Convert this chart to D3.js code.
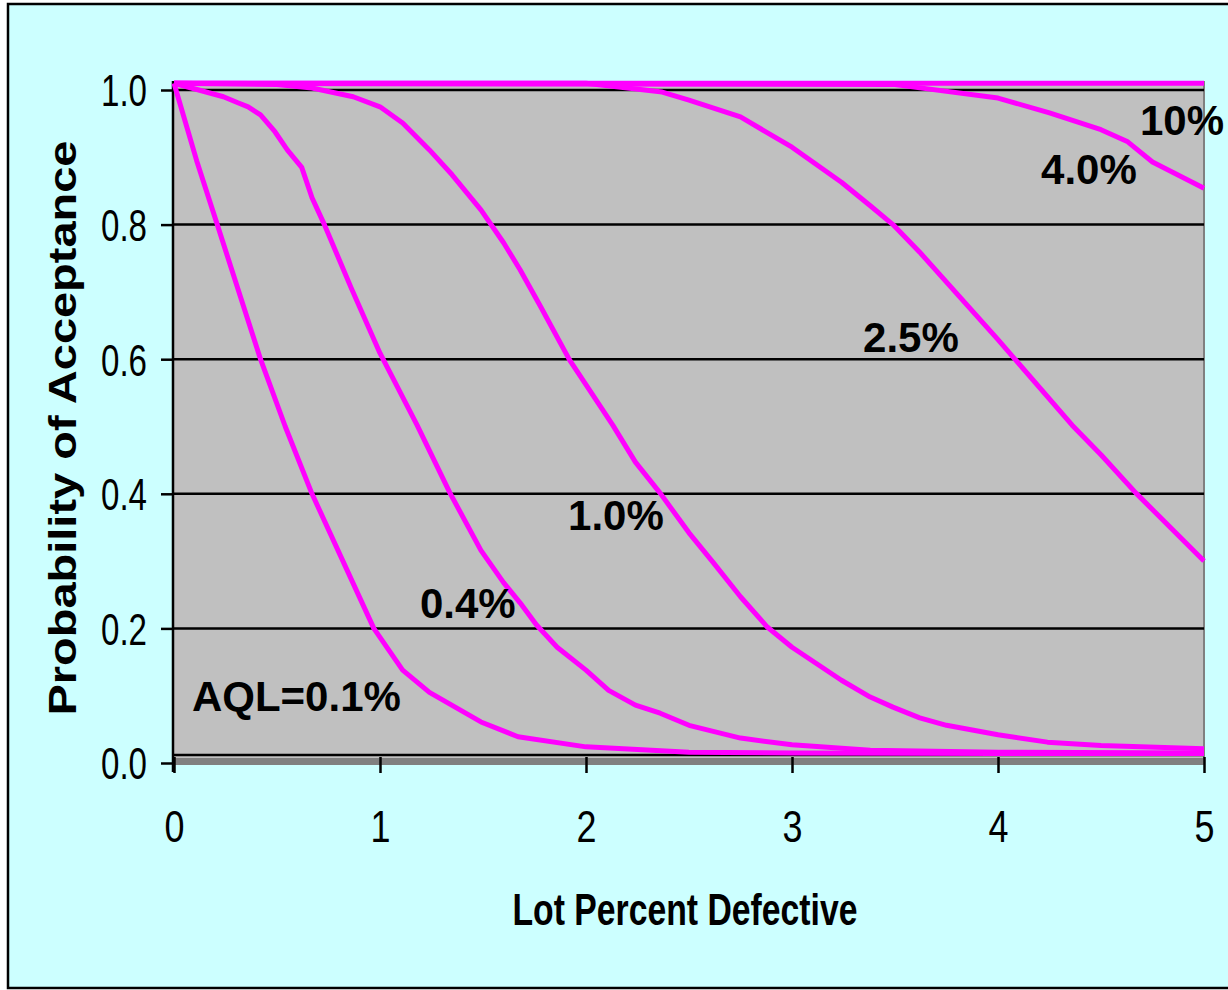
<!DOCTYPE html>
<html>
<head>
<meta charset="utf-8">
<script src="https://cdn.jsdelivr.net/npm/d3@7"></script>
<style>
  body { margin: 0; background: #ffffff; }
  svg { display: block; }
  .tick-label { font-family: "Liberation Sans", Arial, sans-serif; font-size: 44px; fill: #000; }
  .curve-label { font-family: "Liberation Sans", Arial, sans-serif; font-weight: bold; font-size: 42px; fill: #000; }
</style>
</head>
<body>
<svg id="chart" width="1228" height="990"></svg>
<script>
// Lot percent defective (x) and probability of acceptance (y)
const aql01X = [0, 0.11, 0.21, 0.42, 0.54, 0.67, 0.97, 1.11, 1.24, 1.49, 1.67, 2.0, 2.5, 3.0, 4.0, 5.0];
const aql01P = [1.01, 0.895, 0.80, 0.60, 0.50, 0.40, 0.20, 0.138, 0.105, 0.061, 0.039, 0.024, 0.016, 0.015, 0.014, 0.014];

const aql04X = [0, 0.24, 0.31, 0.36, 0.42, 0.49, 0.55, 0.62, 0.67, 0.73, 0.86, 1.0, 1.18, 1.34, 1.49, 1.60, 1.68, 1.76, 1.86, 2.0, 2.11, 2.24, 2.36, 2.5, 2.75, 3.0, 3.38, 4.0, 5.0];
const aql04P = [1.01, 0.99, 0.981, 0.975, 0.963, 0.938, 0.911, 0.885, 0.84, 0.80, 0.706, 0.609, 0.502, 0.401, 0.316, 0.268, 0.238, 0.205, 0.172, 0.138, 0.108, 0.086, 0.074, 0.056, 0.037, 0.027, 0.019, 0.016, 0.015];

const aql10X = [0, 0.5, 0.67, 0.87, 1.0, 1.11, 1.24, 1.35, 1.49, 1.60, 1.68, 1.78, 1.92, 2.13, 2.24, 2.36, 2.5, 2.62, 2.75, 2.88, 3.0, 3.24, 3.38, 3.49, 3.62, 3.75, 4.0, 4.24, 4.5, 5.0];
const aql10P = [1.01, 1.008, 1.003, 0.99, 0.975, 0.951, 0.911, 0.874, 0.822, 0.773, 0.733, 0.678, 0.599, 0.502, 0.447, 0.401, 0.342, 0.297, 0.247, 0.202, 0.172, 0.123, 0.098, 0.083, 0.067, 0.056, 0.042, 0.031, 0.026, 0.021];

const aql25X = [0, 2.0, 2.37, 2.5, 2.75, 3.0, 3.24, 3.38, 3.49, 3.62, 4.0, 4.36, 4.5, 4.67, 5.0];
const aql25P = [1.01, 1.01, 0.997, 0.985, 0.96, 0.915, 0.863, 0.828, 0.80, 0.759, 0.629, 0.502, 0.458, 0.401, 0.30];

const aql40X = [0, 3.5, 4.0, 4.25, 4.5, 4.63, 4.75, 5.0];
const aql40P = [1.01, 1.008, 0.988, 0.966, 0.941, 0.923, 0.893, 0.854];

const aql100X = [0, 5.0];
const aql100P = [1.01, 1.01];

const curveLabels = ["AQL=0.1%", "0.4%", "1.0%", "2.5%", "4.0%", "10%"];
// where each label sits, in data units (left edge, baseline)
const labelAtX = [0.087, 1.194, 1.913, 3.345, 4.209, 4.689];
const labelAtP = [0.077, 0.215, 0.346, 0.611, 0.860, 0.933];

const xTicks = [0, 1, 2, 3, 4, 5];
const yTicks = [0, 0.2, 0.4, 0.6, 0.8, 1.0];

const xTitle = "Lot Percent Defective";
const yTitle = "Probability of Acceptance";

const series = [
  [aql01X, aql01P], [aql04X, aql04P], [aql10X, aql10P],
  [aql25X, aql25P], [aql40X, aql40P], [aql100X, aql100P]
].map(([xs, ps]) => xs.map((x, i) => ({ x: x, p: ps[i] })));

const svg = d3.select('#chart');

// chart frame
svg.append('rect')
  .attr('x', 8).attr('y', 4)
  .attr('width', 1240).attr('height', 984)
  .attr('fill', '#ccffff')
  .attr('stroke', '#000').attr('stroke-width', 2.5);

const x = d3.scaleLinear().domain([0, 5]).range([174, 1204]);
const y = d3.scaleLinear().domain([0, 1]).range([763, 90]);

// plot area
const plotTop = 81;
svg.append('rect')
  .attr('x', x(0)).attr('y', plotTop)
  .attr('width', x(5) - x(0)).attr('height', y(0) + 2 - plotTop)
  .attr('fill', '#c0c0c0');
svg.append('rect')
  .attr('x', x(0)).attr('y', y(0) - 5)
  .attr('width', x(5) - x(0)).attr('height', 7)
  .attr('fill', '#808080');
svg.append('line')
  .attr('x1', x(5)).attr('x2', x(5))
  .attr('y1', plotTop).attr('y2', y(0) + 2)
  .attr('stroke', '#808080').attr('stroke-width', 2);

// horizontal gridlines
svg.append('g')
  .selectAll('line')
  .data(yTicks.filter(d => d > 0))
  .join('line')
  .attr('x1', x(0)).attr('x2', x(5))
  .attr('y1', d => y(d)).attr('y2', d => y(d))
  .attr('stroke', '#000').attr('stroke-width', 2.5);

// base line just above the category axis
svg.append('line')
  .attr('x1', x(0)).attr('x2', x(5))
  .attr('y1', y(0) - 8).attr('y2', y(0) - 8)
  .attr('stroke', '#000').attr('stroke-width', 2.5);

// x axis ticks + labels (narrow face: squeeze Liberation Sans)
const xAxis = svg.append('g')
  .attr('transform', `translate(0,${y(0) - 6})`)
  .call(d3.axisBottom(x).tickValues(xTicks).tickSize(16).tickSizeOuter(0).tickFormat(d3.format('d')));
xAxis.select('.domain').remove();
xAxis.selectAll('.tick line').attr('stroke', '#000').attr('stroke-width', 2.5);
xAxis.selectAll('.tick text').attr('class', 'tick-label').attr('font-size', null).attr('font-family', null)
  .attr('dy', null).attr('y', 85)
  .attr('textLength', 20).attr('lengthAdjust', 'spacingAndGlyphs');

// y axis
const yAxis = svg.append('g')
  .attr('transform', `translate(${x(0) - 1},0)`)
  .call(d3.axisLeft(y).tickValues(yTicks).tickSize(12).tickSizeOuter(0).tickFormat(d3.format('.1f')));
yAxis.select('.domain').remove();
yAxis.selectAll('.tick line').attr('stroke', '#000').attr('stroke-width', 2.5);
yAxis.selectAll('.tick text').attr('class', 'tick-label').attr('font-size', null).attr('font-family', null)
  .attr('x', -26).attr('dy', '0.36em')
  .attr('textLength', 46).attr('lengthAdjust', 'spacingAndGlyphs');
svg.append('line')
  .attr('x1', x(0) - 1).attr('x2', x(0) - 1)
  .attr('y1', plotTop).attr('y2', y(0) + 9)
  .attr('stroke', '#000').attr('stroke-width', 2.5);

// OC curves
const line = d3.line().x(d => x(d.x)).y(d => y(d.p));
svg.append('g')
  .selectAll('path')
  .data(series)
  .join('path')
  .attr('d', line)
  .attr('fill', 'none')
  .attr('stroke', '#ff00ff')
  .attr('stroke-width', 5)
  .attr('stroke-linejoin', 'round');

// curve labels
svg.append('g')
  .selectAll('text')
  .data(curveLabels)
  .join('text')
  .attr('class', 'curve-label')
  .attr('x', (d, i) => x(labelAtX[i]))
  .attr('y', (d, i) => y(labelAtP[i]))
  .text(d => d);

// axis titles
svg.append('text')
  .attr('x', 685).attr('y', 925)
  .attr('text-anchor', 'middle')
  .attr('textLength', 345).attr('lengthAdjust', 'spacingAndGlyphs')
  .style('font-family', '"Liberation Sans", Arial, sans-serif')
  .style('font-weight', 'bold').style('font-size', '44px')
  .text(xTitle);

svg.append('text')
  .attr('transform', 'translate(76,428) rotate(-90)')
  .attr('text-anchor', 'middle')
  .attr('textLength', 575).attr('lengthAdjust', 'spacingAndGlyphs')
  .style('font-family', '"Liberation Sans", Arial, sans-serif')
  .style('font-weight', 'bold').style('font-size', '38px')
  .text(yTitle);
</script>
</body>
</html>
